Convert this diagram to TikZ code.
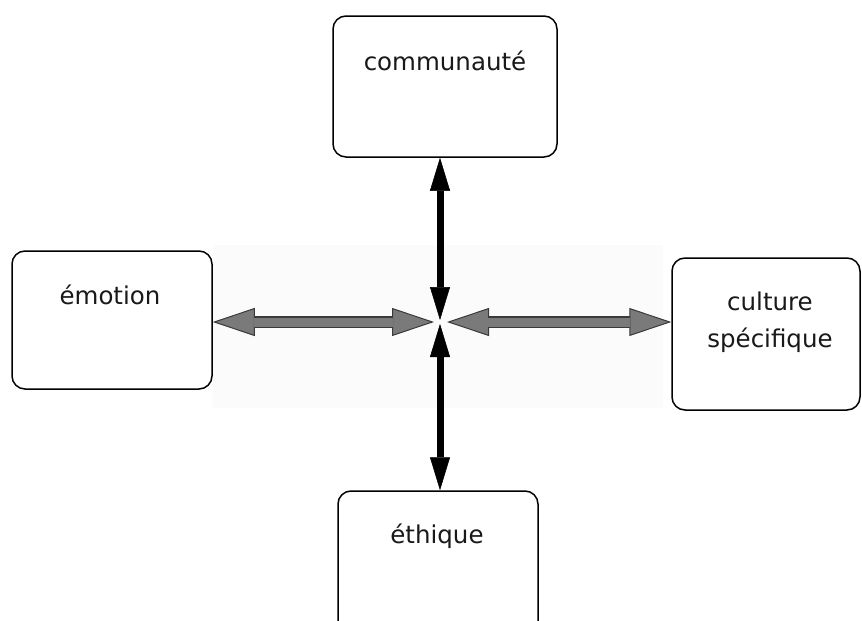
\documentclass[tikz,border=0pt]{standalone}
\usepackage{fontspec}
\setmainfont{DejaVu Sans}
\usetikzlibrary{arrows.meta,calc}
\definecolor{arrgray}{HTML}{7A7A7A}
\definecolor{arrdark}{HTML}{3A3A3A}
\tikzset{
  box/.style={draw=black, line width=1.5pt, rounded corners=13pt, fill=white, inner sep=0pt},
  txt/.style={inner sep=0pt, font=\fontsize{24.5}{37}\selectfont, text=black!90},
  harrowout/.style={line width=12pt, draw=arrdark, {Triangle[width=28pt,length=42pt,line width=1pt,fill=arrgray,color=arrdark]}-{Triangle[width=28pt,length=42pt,line width=1pt,fill=arrgray,color=arrdark]}},
  harrowin/.style={line width=9pt, draw=arrgray, shorten <=41pt, shorten >=41pt},
  varrow/.style={line width=7pt, draw=black, {Triangle[width=20pt,length=33pt,line width=0.5pt]}-{Triangle[width=20pt,length=33pt,line width=0.5pt]}}
}
\begin{document}
\begin{tikzpicture}[x=1pt,y=-1pt]
\useasboundingbox (0,0) rectangle (862,621);
\clip (0,0) rectangle (862,621);
\fill[white] (0,0) rectangle (862,621);
\fill[black!1.5] (213,245) rectangle (663,408);
% boxes
\node[box, minimum width=224pt, minimum height=141pt] (comm) at (445,86.5) {};
\node[box, minimum width=200pt, minimum height=138pt] (emo) at (112,320) {};
\node[box, minimum width=188pt, minimum height=152pt] (cult) at (766,334) {};
\node[box, minimum width=200pt, minimum height=150pt] (eth) at (438,566) {};
% texts
\node[txt, anchor=base] (commT) at (445,70) {communauté};
\node[txt, anchor=base] (emoT) at (110,304) {émotion};
\node[txt, anchor=base, align=center] (cultT) at (770,347) {culture\\spécifique};
\node[txt, anchor=base] (ethT) at (437,543) {éthique};
% centre
\coordinate (c) at (440,322);
\coordinate (cL) at (434,322);
\coordinate (cR) at (447,322);
\coordinate (cT) at (440,320);
\coordinate (cB) at (440,324);
% horizontal arrows
\draw[harrowout] (emo.east |- c) -- (cL);
\draw[harrowin] (emo.east |- c) -- (cL);
\draw[harrowout] (cR) -- (cult.west |- c);
\draw[harrowin] (cR) -- (cult.west |- c);
% vertical arrows
\draw[varrow] (c |- comm.south) -- (cT);
\draw[varrow] (cB) -- (c |- eth.north);
\end{tikzpicture}
\end{document}
